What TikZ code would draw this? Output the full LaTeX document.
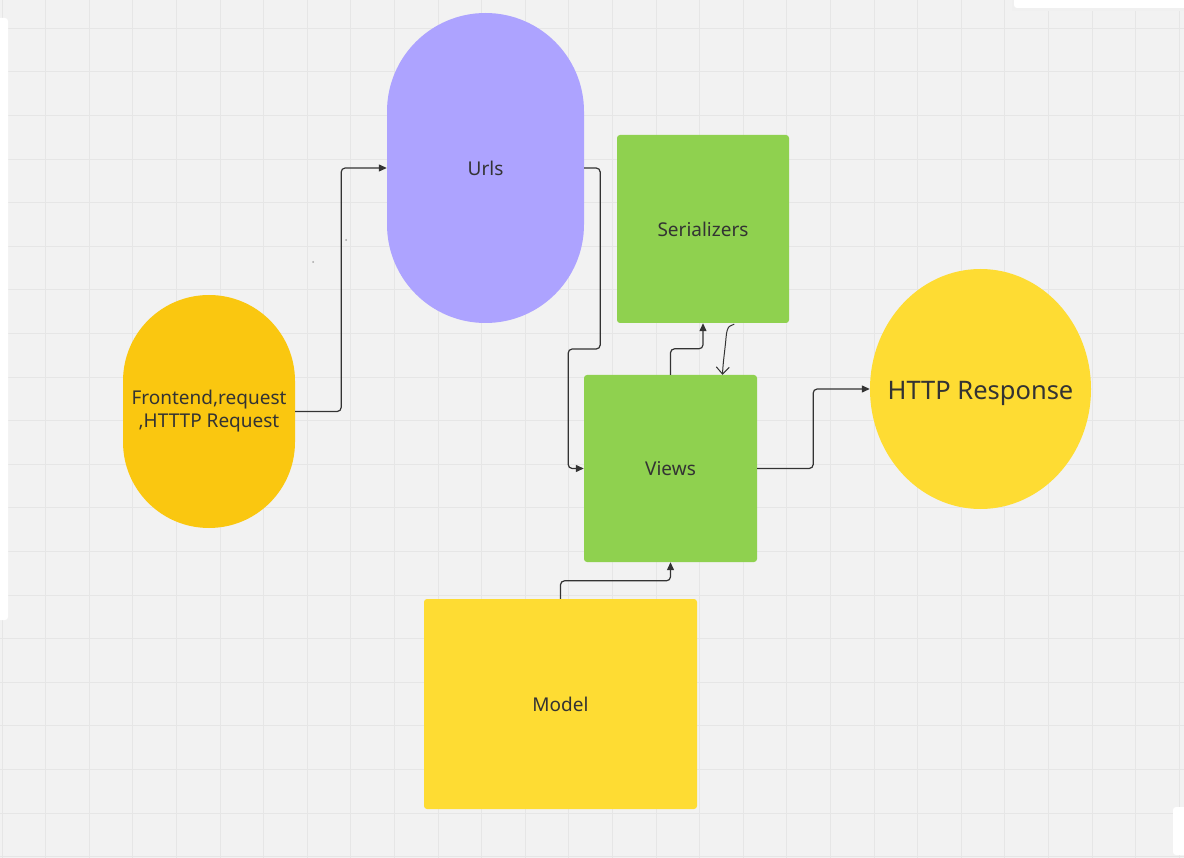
\documentclass[tikz,border=0pt]{standalone}
\usepackage{fontspec}
\setmainfont{Noto Sans}
\usetikzlibrary{shapes.geometric, arrows.meta}
\definecolor{board}{HTML}{F2F2F2}
\definecolor{gridline}{HTML}{E6E6E6}
\definecolor{ink}{HTML}{333333}
\definecolor{orangey}{HTML}{FAC710}
\definecolor{lilac}{HTML}{ADA3FF}
\definecolor{leaf}{HTML}{8FD14F}
\definecolor{sun}{HTML}{FEDC33}
\tikzstyle{shapebox}=[inner sep=0pt, text=ink, font=\fontsize{19}{23}\selectfont, align=center]
\tikzstyle{card}=[shapebox, rectangle, rounded corners=3pt]
\tikzstyle{pill}=[shapebox, rectangle]
\tikzstyle{conn}=[ink, line width=1.2pt, rounded corners=4pt, -{Triangle[length=8pt, width=7pt]}]

\begin{document}
\begin{tikzpicture}[x=1pt, y=-1pt]
    \useasboundingbox (0,0) rectangle (1184,858);
% Board
    \fill[board] (0,0) rectangle (1184,858);
    \foreach \k in {0,...,27}
        \draw[gridline, line width=1pt] (2+43.6*\k,0) -- (2+43.6*\k,858);
    \foreach \k in {0,...,19}
        \draw[gridline, line width=1pt] (0,28.3+43.6*\k) -- (1184,28.3+43.6*\k);
    \fill[white, rounded corners=3pt] (-10,18) rectangle (8,620);
    \fill[black!6] (1012,0) rectangle (1184,11);
    \fill[white, rounded corners=3pt] (1014,-10) rectangle (1194,8);
    \fill[white, rounded corners=3pt] (1173,807) rectangle (1194,855);
    \fill[black!35] (346,240) circle(1);
    \fill[black!35] (313,262) circle(1);
% Shapes
    \node[pill, fill=orangey, minimum width=172, minimum height=233, rounded corners=86pt] (front) at (209,411.5) {Frontend,request\\,HTTTP Request};
    \node[pill, fill=lilac, minimum width=197, minimum height=310, rounded corners=98.5pt] (urls) at (485.5,168) {Urls};
    \node[card, fill=leaf, minimum width=172, minimum height=188] (serial) at (703,229) {Serializers};
    \node[card, fill=leaf, minimum width=173, minimum height=187] (views) at (670.5,468.5) {Views};
    \node[card, fill=sun, minimum width=273, minimum height=210] (model) at (560.5,704) {Model};
    \node[ellipse, fill=sun, inner sep=0pt, minimum width=221, minimum height=240,
        label={[text=ink, font=\fontsize{25.5}{30}\selectfont, yshift=-4pt]center:HTTP Response}] (resp) at (980.5,389) {};
% Connectors
    \draw[conn] (front.east) -- ++(46,0) |- (urls.west);
    \draw[conn] (urls.east) -- ++(16,0) -- ++(0,181) -- ++(-32,0) |- (views.west);
    \draw[conn] (views.north) -- ++(0,-26) -| (serial.south);
    \draw[conn] (views.east) -- ++(56,0) |- (resp.west);
    \draw[conn] (model.north) -- ++(0,-18) -| (views.south);
% Hand-drawn link
    \coordinate (squig) at ([xshift=31,yshift=-1]serial.south);
    \coordinate (squigend) at ([xshift=52]views.north);
    \draw[ink, line width=1pt, line cap=round, -{Straight Barb[length=7pt, width=13pt]}]
        (squig) .. controls (731,326) and (727,324) .. (726,338)
        .. controls (725,350) and (723,362) .. (squigend);
\end{tikzpicture}
\end{document}
